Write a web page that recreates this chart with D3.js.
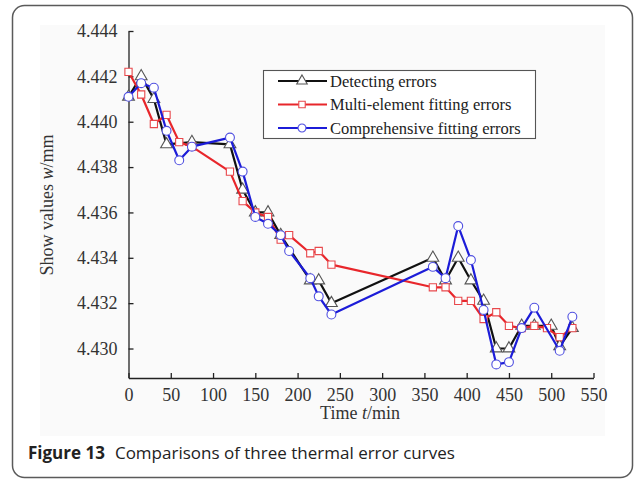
<!DOCTYPE html>
<html>
<head>
<meta charset="utf-8">
<script src="https://cdn.jsdelivr.net/npm/d3@7/dist/d3.min.js"></script>
<style>
  html, body { margin: 0; padding: 0; background: #ffffff; }
  svg { display: block; }
</style>
</head>
<body>
<svg id="chart" width="635" height="480"></svg>
<script>
// Measurement times (min) and displayed values w (mm) for each curve
const detectTimes  = [0, 15, 30, 45, 75, 120, 135, 150, 165, 180, 215, 225, 240, 360, 375, 390, 405, 420, 435, 450, 465, 480, 500, 510, 525];
const detectValues = [4.4411, 4.4420, 4.4410, 4.4390, 4.4391, 4.4390, 4.4370, 4.4360, 4.4360, 4.4350, 4.4330, 4.4330, 4.4320, 4.4340, 4.4330, 4.4340, 4.4330, 4.4321, 4.4300, 4.4300, 4.4310, 4.4310, 4.4310, 4.4301, 4.4309];

const multiTimes  = [0, 15, 30, 45, 60, 75, 120, 135, 150, 165, 180, 190, 215, 225, 240, 360, 375, 390, 405, 420, 435, 450, 465, 480, 495, 510, 525];
const multiValues = [4.4422, 4.4412, 4.4399, 4.4403, 4.4391, 4.4389, 4.4378, 4.4365, 4.4360, 4.4358, 4.4348, 4.4350, 4.4342, 4.4343, 4.4337, 4.4327, 4.4327, 4.4321, 4.4321, 4.4313, 4.4316, 4.4310, 4.4309, 4.4310, 4.4309, 4.4305, 4.4309];

const compTimes  = [0, 15, 30, 45, 60, 75, 120, 135, 150, 165, 180, 190, 215, 225, 240, 360, 375, 390, 405, 420, 435, 450, 465, 480, 510, 525];
const compValues = [4.4411, 4.4417, 4.4415, 4.4396, 4.4383, 4.4389, 4.4393, 4.4378, 4.4358, 4.4355, 4.4350, 4.4343, 4.4331, 4.4323, 4.4315, 4.4336, 4.4331, 4.4354, 4.4339, 4.4317, 4.4293, 4.4294, 4.4309, 4.4318, 4.4299, 4.4314];

const seriesNames = ["Detecting errors", "Multi-element fitting errors", "Comprehensive fitting errors"];
const xTicks = [0, 50, 100, 150, 200, 250, 300, 350, 400, 450, 500, 550];
const yTicks = [4.430, 4.432, 4.434, 4.436, 4.438, 4.440, 4.442, 4.444];

const svg = d3.select("#chart");
const serif = "'Liberation Serif', 'Times New Roman', serif";
const sans = "'Open Sans', 'Noto Sans', sans-serif";

// Outer card frame
svg.append("rect")
  .attr("x", 12.5).attr("y", 5.5).attr("width", 620).attr("height", 472)
  .attr("rx", 12).attr("ry", 12)
  .attr("fill", "#ffffff").attr("stroke", "#5a5a5a").attr("stroke-width", 1.5);

// Figure panel background
svg.append("rect")
  .attr("x", 40).attr("y", 25).attr("width", 565).attr("height", 411)
  .attr("fill", "#fafafa");

const x = d3.scaleLinear().domain([0, 550]).range([128.5, 593.5]);
const y = d3.scaleLinear().domain([4.4287, 4.444]).range([378, 31]);

// Axes with inward ticks
const xAxis = d3.axisBottom(x).tickValues(xTicks).tickSizeInner(-5).tickSizeOuter(0).tickPadding(10)
  .tickFormat(d3.format("d"));
const yAxis = d3.axisLeft(y).tickValues(yTicks).tickSizeInner(-5).tickSizeOuter(0).tickPadding(11)
  .tickFormat(d3.format(".3f"));

const gx = svg.append("g").attr("transform", "translate(0,378)").call(xAxis);
const gy = svg.append("g").attr("transform", "translate(128.5,0)").call(yAxis);

[gx, gy].forEach(g => {
  g.selectAll("path.domain").attr("stroke", "#222").attr("stroke-width", 1.3);
  g.selectAll(".tick line").attr("stroke", "#222").attr("stroke-width", 1.3);
  g.selectAll(".tick text").attr("fill", "#333").style("font-family", serif).style("font-size", "18px");
});

// Axis titles
const xt = svg.append("text")
  .attr("x", 360).attr("y", 419).attr("text-anchor", "middle")
  .style("font-family", serif).style("font-size", "18px").attr("fill", "#333");
xt.append("tspan").text("Time ");
xt.append("tspan").style("font-style", "italic").text("t");
xt.append("tspan").text("/min");

const yt = svg.append("text")
  .attr("transform", "translate(53,205) rotate(-90)").attr("text-anchor", "middle")
  .style("font-family", serif).style("font-size", "18px").attr("fill", "#333");
yt.append("tspan").text("Show values ");
yt.append("tspan").style("font-style", "italic").text("w");
yt.append("tspan").text("/mm");

// Series definitions
const series = [
  { name: seriesNames[0], times: detectTimes, values: detectValues, color: "#111111", markColor: "#555555", shape: d3.symbolTriangle, size: 60 },
  { name: seriesNames[1], times: multiTimes,  values: multiValues,  color: "#e8262b", markColor: "#e8484c", shape: d3.symbolSquare,   size: 52 },
  { name: seriesNames[2], times: compTimes,   values: compValues,   color: "#1c1cd8", markColor: "#5050e0", shape: d3.symbolCircle,   size: 62 }
];

const line = d3.line().x(d => x(d[0])).y(d => y(d[1]));

series.forEach(s => {
  const pts = s.times.map((t, i) => [t, s.values[i]]);
  const g = svg.append("g");
  g.append("path").datum(pts).attr("d", line)
    .attr("fill", "none").attr("stroke", s.color).attr("stroke-width", 2.2)
    .attr("stroke-linejoin", "round");
  g.selectAll("path.mark").data(pts).enter().append("path")
    .attr("class", "mark")
    .attr("d", d3.symbol().type(s.shape).size(s.size))
    .attr("transform", d => `translate(${x(d[0])},${y(d[1])})`)
    .attr("fill", "#ffffff").attr("stroke", s.markColor).attr("stroke-width", 1.1);
});

// Legend
const lg = svg.append("g");
lg.append("rect").attr("x", 263.5).attr("y", 70.5).attr("width", 272).attr("height", 68)
  .attr("fill", "#ffffff").attr("stroke", "#555").attr("stroke-width", 1.1);
series.forEach((s, i) => {
  const cy = 81 + i * 23.5;
  lg.append("line").attr("x1", 278).attr("x2", 327).attr("y1", cy).attr("y2", cy)
    .attr("stroke", s.color).attr("stroke-width", 2.2);
  lg.append("path").attr("d", d3.symbol().type(s.shape).size(s.size * 0.8))
    .attr("transform", `translate(302,${cy})`)
    .attr("fill", "#ffffff").attr("stroke", s.markColor).attr("stroke-width", 1.1);
  lg.append("text").attr("x", 330).attr("y", cy).attr("dy", "0.35em")
    .style("font-family", serif).style("font-size", "16.5px").attr("fill", "#222")
    .text(s.name);
});

// Caption
const cap = svg.append("text").attr("x", 28).attr("y", 459)
  .style("font-family", sans).style("font-size", "17px").attr("fill", "#222");
cap.append("tspan").style("font-weight", "bold").text("Figure 13");
cap.append("tspan").attr("dx", 10).text("Comparisons of three thermal error curves");
</script>
</body>
</html>
